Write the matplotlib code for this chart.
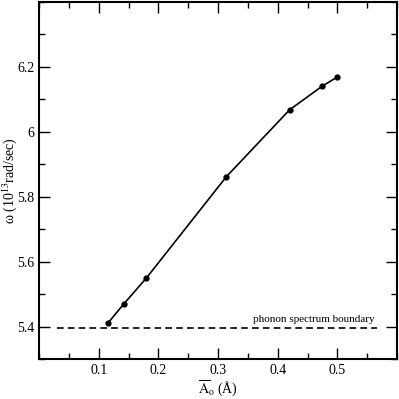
import matplotlib
matplotlib.use("Agg")
import matplotlib.pyplot as plt
from matplotlib.ticker import MultipleLocator

plt.rcParams['font.family'] = ['Liberation Serif', 'DejaVu Serif']
plt.rcParams['mathtext.fontset'] = 'stix'

# amplitude (Angstrom) vs frequency (10^13 rad/sec)
amp = [0.115, 0.142, 0.180, 0.314, 0.420, 0.474, 0.500]
omega = [5.41, 5.47, 5.55, 5.862, 6.068, 6.14, 6.169]

boundary = 5.397
boundary_x = [0.03, 0.567]

fig = plt.figure(figsize=(3.99, 3.99), dpi=100)
ax = fig.add_axes([0.098, 0.1, 0.897, 0.895])

ax.plot(amp, omega, color='black', lw=1.2, marker='o', ms=3.5)
ax.plot(boundary_x, [boundary, boundary], color='black', lw=1.2, ls=(0, (4, 2.5)))
ax.text(0.562, boundary + 0.012, 'phonon spectrum boundary', ha='right', va='bottom', fontsize=8)

ax.set_xlim(0, 0.6)
ax.set_ylim(5.3, 6.4)
ax.xaxis.set_minor_locator(MultipleLocator(0.05))
ax.yaxis.set_minor_locator(MultipleLocator(0.1))
ax.set_xticks([0.1, 0.2, 0.3, 0.4, 0.5])
ax.set_xticklabels(['0.1', '0.2', '0.3', '0.4', '0.5'])
ax.set_yticks([5.4, 5.6, 5.8, 6.0, 6.2])
ax.set_yticklabels(['5.4', '5.6', '5.8', '6', '6.2'])

ax.tick_params(which='both', direction='in', top=True, right=True, labelsize=10, width=1)
ax.tick_params(which='major', length=8)
ax.tick_params(which='minor', length=4)
for s in ax.spines.values():
    s.set_linewidth(1.5)

ax.set_xlabel(r'$\overline{\mathrm{A}}_{\mathrm{o}}$ (Å)', fontsize=10, va='center')
ax.set_ylabel(r'ω (10$^{13}$rad/sec)', fontsize=10, va='center')
ax.xaxis.set_label_coords(0.5, -0.081)
ax.yaxis.set_label_coords(-0.083, 0.5)

fig.savefig('out.png', dpi=100)
